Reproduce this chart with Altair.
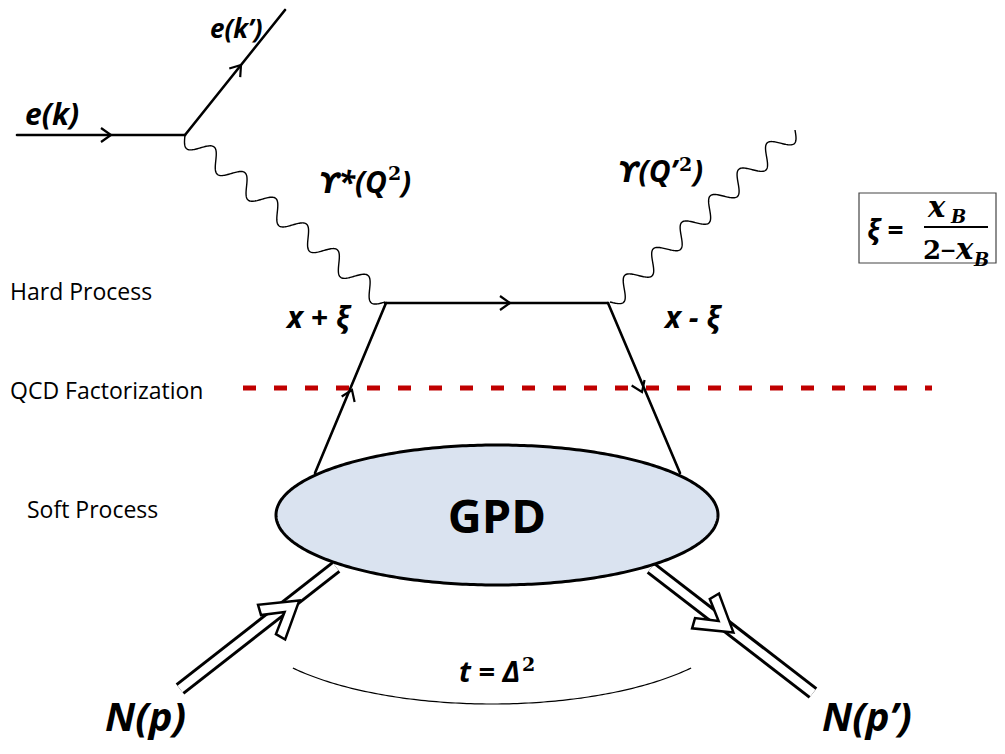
import numpy as np
import pandas as pd
import altair as alt

# ---------------- values (pixel coordinates) ----------------
# single fermion lines (electron in/out, quark lines)
line_x1 = [17, 185, 385, 386, 608]
line_y1 = [135, 135, 303, 303, 303]
line_x2 = [185, 285, 608, 315, 680]
line_y2 = [135, 10, 303, 473, 473]

# arrow tips on the fermion lines, with the direction of travel
arrow_x = [111, 241, 510, 352, 642]
arrow_y = [135, 65, 303, 390, 392]
arrow_dx = [1, 100, 1, 71, 72]
arrow_dy = [0, -125, 0, -170, 170]

# nucleon double lines
nuc_x1 = [180, 651]
nuc_y1 = [689, 568]
nuc_x2 = [336, 813]
nuc_y2 = [567, 693]
# open chevrons on the nucleon lines (centre) and travel direction
chev_x = [282, 716]
chev_y = [614, 619]
chev_dx = [156, 162]
chev_dy = [-122, 125]

# photon (wavy) lines
ph_x1 = [185, 610]
ph_y1 = [135, 302]
ph_x2 = [385, 795]
ph_y2 = [302, 130]
ph_periods = [6.5, 6.5]
ph_amp = [9.5, 9.5]

# GPD blob
gpd_cx, gpd_cy, gpd_rx, gpd_ry = 497, 515, 221, 70
# t arc
arc_cx, arc_cy, arc_a, arc_b = 492, 613, 250, 91
arc_deg = [37.2, 142.8]

# factorization line
fact_x = [243]
fact_x2 = [932]
fact_y = [388]

# formula box
box_x, box_x2, box_y, box_y2 = [859], [996], [193], [263]
frac_x, frac_x2, frac_y = [924], [988], [227]

# texts
reg_text = ["Hard Process", "QCD Factorization", "Soft Process"]
reg_x = [10, 10, 27]
reg_y = [300, 399, 518]

bi_text = ["e(k)", "x + \u03be", "x - \u03be", "*(Q", "(Q\u2019", ")", ")"]
bi_x = [25, 287, 665, 387, 677, 401, 693]
bi_y = [125, 328, 328, 193, 182, 193, 182]
bi_align = ["left", "left", "left", "right", "right", "left", "left"]

ek_text = ["e(k\u2019)"]
ek_x = [210]
ek_y = [38]

ups_text = ["\u03d2", "\u03d2"]
ups_x = [319, 618]
ups_y = [193, 182]

t_text = ["t = \u0394"]
t_x = [520]
t_y = [682]

sup_text = ["2", "2", "2"]
sup_x = [388, 679, 522]
sup_y = [180, 171, 671]

big_text = ["N(p)", "N(p\u2019)"]
big_x = [105, 822]
big_y = [731, 731]

# formula pieces
fs_text = ["\u03be ="]
fs_x = [867]
fs_y = [240]
fi_text = ["x", "x"]
fi_x = [928, 956]
fi_y = [217, 259]
fu_text = ["2"]
fu_x = [923]
fu_y = [259]
fm_text = ["\u2212"]
fm_x = [948]
fm_y = [257]
fb_text = ["B", "B"]
fb_x = [951, 974]
fb_y = [223, 266]

# ---------------- scales ----------------
X = alt.X("x:Q", scale=alt.Scale(domain=[8, 997], nice=False, zero=False), axis=None)
Y = alt.Y("y:Q", scale=alt.Scale(domain=[8, 746], nice=False, zero=False, reverse=True), axis=None)
X2 = alt.X2("x2:Q")
Y2 = alt.Y2("y2:Q")


def ang(dx, dy):
    return float(np.degrees(np.arctan2(dx, -dy)) % 360)


# ---------------- build data tables ----------------
lines_df = pd.DataFrame({"x": line_x1, "y": line_y1, "x2": line_x2, "y2": line_y2})
arrows_df = pd.DataFrame({"x": arrow_x, "y": arrow_y,
                          "angle": [ang(a, b) for a, b in zip(arrow_dx, arrow_dy)]})
nuc_df = pd.DataFrame({"x": nuc_x1, "y": nuc_y1, "x2": nuc_x2, "y2": nuc_y2})
chev_df = pd.DataFrame({"x": chev_x, "y": chev_y,
                        "angle": [ang(a, b) for a, b in zip(chev_dx, chev_dy)]})

rows = []
for k in range(len(ph_x1)):
    p0 = np.array([ph_x1[k], ph_y1[k]], float)
    p1 = np.array([ph_x2[k], ph_y2[k]], float)
    d = p1 - p0
    L = np.hypot(*d)
    u = d / L
    nrm = np.array([-u[1], u[0]])
    t = np.linspace(0, 1, 400)
    off = ph_amp[k] * np.sin(2 * np.pi * ph_periods[k] * t)
    pts = p0[None, :] + t[:, None] * d[None, :] + off[:, None] * nrm[None, :]
    for i, (px, py) in enumerate(pts):
        rows.append({"id": k, "i": i, "x": px, "y": py})
photon_df = pd.DataFrame(rows)

th = np.linspace(0, np.pi, 181)
ell_fill = pd.DataFrame({"x": gpd_cx + gpd_rx * np.cos(th),
                         "y": gpd_cy - gpd_ry * np.sin(th),
                         "y2": gpd_cy + gpd_ry * np.sin(th)})
th2 = np.linspace(0, 2 * np.pi, 361)
ell_line = pd.DataFrame({"i": np.arange(len(th2)),
                         "x": gpd_cx + gpd_rx * np.cos(th2),
                         "y": gpd_cy + gpd_ry * np.sin(th2)})
th3 = np.radians(np.linspace(arc_deg[0], arc_deg[1], 120))
arc_df = pd.DataFrame({"i": np.arange(len(th3)),
                       "x": arc_cx + arc_a * np.cos(th3),
                       "y": arc_cy + arc_b * np.sin(th3)})

fact_df = pd.DataFrame({"x": fact_x, "x2": fact_x2, "y": fact_y, "y2": fact_y})
box_df = pd.DataFrame({"x": box_x, "x2": box_x2, "y": box_y, "y2": box_y2})
frac_df = pd.DataFrame({"x": frac_x, "x2": frac_x2, "y": frac_y, "y2": frac_y})


def tdf(txt, xs, ys):
    return pd.DataFrame({"t": txt, "x": xs, "y": ys})


SANS = "Open Sans, DejaVu Sans"
SERIF = "DejaVu Serif, Liberation Serif"

small_chev = "M -0.7 1 L 0 0 L 0.7 1"
big_chev = "M 0 -1 L 1 0.6 L 0.55 0.78 L 0 -0.15 L -0.55 0.78 L -1 0.6 Z"


def text_layer(df, **kw):
    base = dict(baseline="alphabetic", color="black", align="left")
    base.update(kw)
    return alt.Chart(df).mark_text(**base).encode(x=X, y=Y, text="t:N")


layers = []
# nucleon double lines
layers.append(alt.Chart(nuc_df).mark_rule(color="black", strokeWidth=14, strokeCap="butt")
              .encode(x=X, y=Y, x2=X2, y2=Y2))
layers.append(alt.Chart(nuc_df).mark_rule(color="white", strokeWidth=8, strokeCap="butt")
              .encode(x=X, y=Y, x2=X2, y2=Y2))
layers.append(alt.Chart(chev_df).mark_point(shape=big_chev, size=1936, filled=True,
                                            fill="white", stroke="black", strokeWidth=2.5,
                                            opacity=1, strokeJoin="miter")
              .encode(x=X, y=Y, angle=alt.Angle("angle:Q", scale=None)))
# fermion lines
layers.append(alt.Chart(lines_df).mark_rule(color="black", strokeWidth=2.6, strokeCap="round")
              .encode(x=X, y=Y, x2=X2, y2=Y2))
# GPD blob
layers.append(alt.Chart(ell_fill).mark_area(color="#DAE3F0", opacity=1)
              .encode(x=X, y=Y, y2=Y2))
layers.append(alt.Chart(ell_line).mark_line(color="black", strokeWidth=3)
              .encode(x=X, y=Y, order="i:Q"))
# arc for t
layers.append(alt.Chart(arc_df).mark_line(color="black", strokeWidth=1.2)
              .encode(x=X, y=Y, order="i:Q"))
# photons
layers.append(alt.Chart(photon_df).mark_line(color="black", strokeWidth=1.4)
              .encode(x=X, y=Y, detail="id:N", order="i:Q"))
# factorization line
layers.append(alt.Chart(fact_df).mark_rule(color="#C00000", strokeWidth=5, strokeDash=[13, 18],
                                           strokeCap="butt")
              .encode(x=X, y=Y, x2=X2, y2=Y2))
# arrows
layers.append(alt.Chart(arrows_df).mark_point(shape=small_chev, size=400, filled=False,
                                              color="black", strokeWidth=2.2, opacity=1)
              .encode(x=X, y=Y, angle=alt.Angle("angle:Q", scale=None)))
# formula box
layers.append(alt.Chart(box_df).mark_rect(fill="white", stroke="#444444", strokeWidth=1.2)
              .encode(x=X, y=Y, x2=X2, y2=Y2))
layers.append(alt.Chart(frac_df).mark_rule(color="black", strokeWidth=2)
              .encode(x=X, y=Y, x2=X2, y2=Y2))

# texts
layers.append(text_layer(tdf(reg_text, reg_x, reg_y), font=SANS, fontSize=23))
for i in range(len(bi_text)):
    layers.append(text_layer(tdf([bi_text[i]], [bi_x[i]], [bi_y[i]]), font=SANS, fontSize=30,
                             fontWeight="bold", fontStyle="italic", align=bi_align[i]))
layers.append(text_layer(tdf(ek_text, ek_x, ek_y), font=SANS, fontSize=26,
                         fontWeight="bold", fontStyle="italic"))
layers.append(text_layer(tdf(ups_text, ups_x, ups_y), font="DejaVu Sans", fontSize=28,
                         fontWeight="bold", fontStyle="italic"))
layers.append(text_layer(tdf(t_text, t_x, t_y), font=SANS, fontSize=29,
                         fontWeight="bold", fontStyle="italic", align="right"))
layers.append(text_layer(tdf(sup_text, sup_x, sup_y), font=SERIF, fontSize=19, fontWeight="bold"))
layers.append(text_layer(tdf(big_text, big_x, big_y), font=SANS, fontSize=40,
                         fontWeight="bold", fontStyle="italic"))
layers.append(text_layer(tdf(["GPD"], [497], [533]), font=SANS, fontSize=47,
                         fontWeight="bold", align="center"))
layers.append(text_layer(tdf(fs_text, fs_x, fs_y), font=SANS, fontSize=28,
                         fontWeight="bold", fontStyle="italic"))
layers.append(text_layer(tdf(fi_text, fi_x, fi_y), font=SERIF, fontSize=29,
                         fontWeight="bold", fontStyle="italic"))
layers.append(text_layer(tdf(fu_text, fu_x, fu_y), font=SERIF, fontSize=26, fontWeight="bold"))
layers.append(text_layer(tdf(fm_text, fm_x, fm_y), font=SERIF, fontSize=20, fontWeight="bold",
                         align="center"))
layers.append(text_layer(tdf(fb_text, fb_x, fb_y), font=SERIF, fontSize=18,
                         fontWeight="bold", fontStyle="italic"))

chart = alt.layer(*layers).properties(
    width=989, height=738, padding=0, autosize="none", background="white"
).configure_view(stroke=None)

chart.save("out.html", embed_options={"renderer": "svg", "actions": False})
